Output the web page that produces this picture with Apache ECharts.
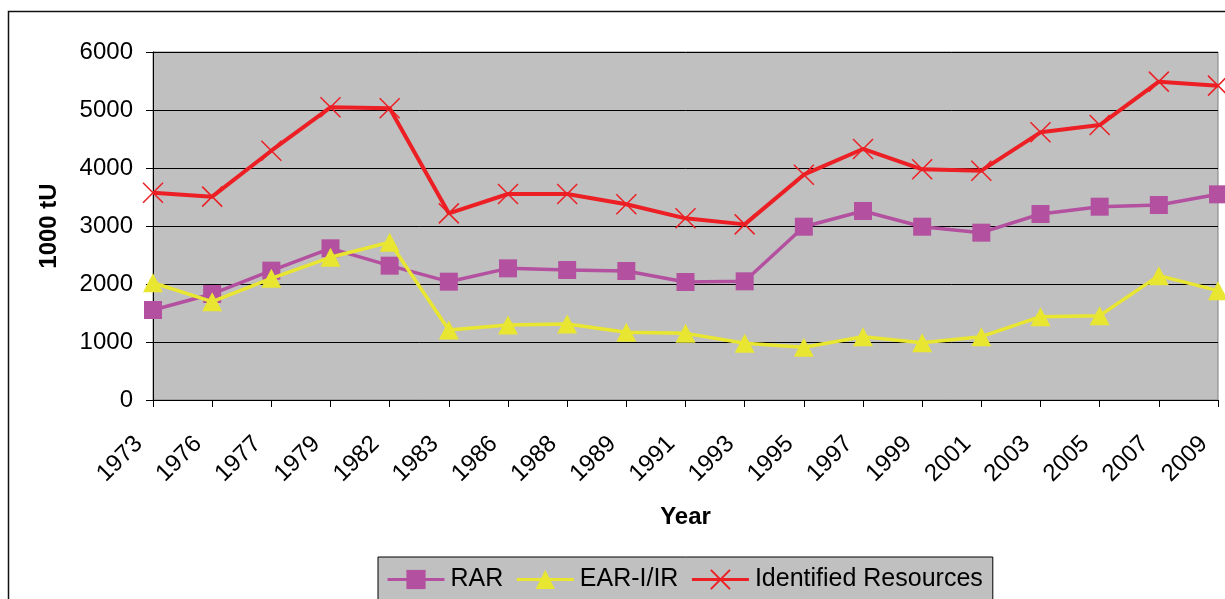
<!DOCTYPE html>
<html>
<head>
<meta charset="utf-8">
<script src="https://cdn.jsdelivr.net/npm/echarts@6/dist/echarts.min.js"></script>
<style>
html,body{margin:0;padding:0;background:#fff;}
#chart{width:1225px;height:599px;}
</style>
</head>
<body>
<div id="chart"></div>
<script>
const years = ['1973','1976','1977','1979','1982','1983','1986','1988','1989','1991','1993','1995','1997','1999','2001','2003','2005','2007','2009'];
const rar = [1552, 1828, 2230, 2615, 2316, 2040, 2270, 2241, 2224, 2034, 2046, 2988, 3259, 2988, 2885, 3207, 3333, 3362, 3546];
const ear = [2022, 1695, 2098, 2460, 2719, 1207, 1293, 1310, 1167, 1149, 977, 908, 1092, 988, 1092, 1437, 1454, 2144, 1885];
const identified = [3574, 3506, 4298, 5046, 5029, 3218, 3552, 3552, 3374, 3132, 3028, 3885, 4328, 3977, 3954, 4615, 4741, 5489, 5420];
const seriesNames = ['RAR', 'EAR-I/IR', 'Identified Resources'];

const FONT = "'Liberation Sans', Arial, sans-serif";
const chart = echarts.init(document.getElementById('chart'), null, {renderer: 'canvas'});
const crossPath = 'path://M0,0L10,10M10,0L0,10';

chart.setOption({
  animation: false,
  backgroundColor: '#ffffff',
  textStyle: {fontFamily: FONT, color: '#000'},
  graphic: [{
    type: 'rect', silent: true, z: -10,
    shape: {x: 8.5, y: 11.5, width: 1400, height: 800},
    style: {fill: 'none', stroke: '#111', lineWidth: 1.5}
  }],
  grid: {
    left: 153, right: 7, top: 52, bottom: 199,
    show: true, backgroundColor: '#c0c0c0', borderColor: '#808080', borderWidth: 1,
    containLabel: false
  },
  legend: {
    left: 378, top: 557,
    padding: [10, 10, 10, 8],
    backgroundColor: '#c0c0c0', borderColor: '#000', borderWidth: 1, borderRadius: 0,
    itemWidth: 57, itemHeight: 24, itemGap: 12,
    lineStyle: {width: 3},
    textStyle: {fontFamily: FONT, fontSize: 25, color: '#000', padding: [0, 0, 0, 1]},
    data: seriesNames
  },
  xAxis: {
    type: 'category', data: years, boundaryGap: false,
    name: 'Year', nameLocation: 'middle', nameGap: 105,
    nameTextStyle: {fontFamily: FONT, fontSize: 24, fontWeight: 'bold', color: '#000'},
    axisLine: {lineStyle: {color: '#000', width: 1}},
    axisTick: {show: true, length: 7, inside: false, lineStyle: {color: '#000'}},
    axisLabel: {
      rotate: 45, margin: 26, interval: 0,
      fontFamily: FONT, fontSize: 24, color: '#000',
      padding: [0, 20, 0, 0]
    },
    splitLine: {show: false}
  },
  yAxis: {
    type: 'value', min: 0, max: 6000, interval: 1000,
    name: '1000 tU', nameLocation: 'middle', nameGap: 92, nameRotate: 90,
    nameTextStyle: {fontFamily: FONT, fontSize: 24, fontWeight: 'bold', color: '#000'},
    axisLine: {show: true, lineStyle: {color: '#000', width: 1}},
    axisTick: {show: true, length: 7, lineStyle: {color: '#000'}},
    axisLabel: {margin: 20, fontFamily: FONT, fontSize: 24, color: '#000',
      formatter: function (v) { return String(v); }},
    splitLine: {show: true, lineStyle: {color: '#000', width: 1}}
  },
  series: [
    {
      name: seriesNames[0], type: 'line', data: rar,
      symbol: 'rect', symbolSize: 18,
      itemStyle: {color: '#b3509f'},
      lineStyle: {color: '#b3509f', width: 3.5},
      z: 3
    },
    {
      name: seriesNames[1], type: 'line', data: ear,
      symbol: 'triangle', symbolSize: [20, 19],
      itemStyle: {color: '#e8e630'},
      lineStyle: {color: '#e8e630', width: 3.5},
      z: 4
    },
    {
      name: seriesNames[2], type: 'line', data: identified,
      symbol: crossPath, symbolSize: 20,
      itemStyle: {color: 'rgba(0,0,0,0)', borderColor: '#ec1f24', borderWidth: 1.5},
      lineStyle: {color: '#ec1f24', width: 4},
      z: 5
    }
  ]
});
</script>
</body>
</html>
